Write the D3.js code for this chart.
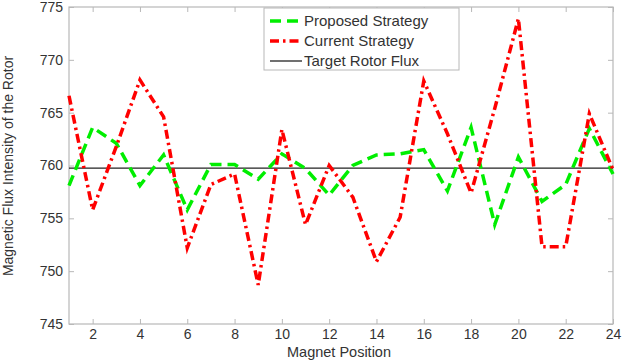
<!DOCTYPE html>
<meta charset="utf-8">
<script src="https://d3js.org/d3.v7.min.js"></script>
<style>
  body { margin: 0; background: #fff; }
  text { font-family: "Liberation Sans", Arial, sans-serif; fill: #333; }
</style>
<div id="chart"></div>
<script>

// magnet positions 1..24
var positions = d3.range(1, 25);

// flux
var proposed = [758.1, 763.6, 762.1, 758.1, 761.0, 755.8, 760.1, 760.1, 758.7, 761.1, 759.7, 757.2,
                760.0, 761.0, 761.1, 761.5, 757.6, 763.6, 754.4, 760.8, 756.6, 758.2, 763.5, 759.2];
var current  = [766.6, 755.8, 761.8, 768.1, 764.6, 752.2, 758.2, 759.2, 748.7, 763.4, 754.4, 760.0,
                757.0, 750.9, 755.1, 768.0, 763.0, 757.4, 765.4, 773.9, 752.3, 752.3, 764.9, 759.6];
var target = 759.75;

var xTicks = [2, 4, 6, 8, 10, 12, 14, 16, 18, 20, 22, 24];
var yTicks = [745, 750, 755, 760, 765, 770, 775];

var legendItems = ["Proposed Strategy", "Current Strategy", "Target Rotor Flux"];

var W = 644, H = 364;
var margin = {top: 7, right: 31, bottom: 40, left: 69},
    width = W - margin.left - margin.right,
    height = H - margin.top - margin.bottom;

var svg = d3.select("#chart")
  .append("svg")
    .attr("width", W)
    .attr("height", H)
  .append("g")
    .attr("transform", "translate(" + margin.left + "," + margin.top + ")");

var x = d3.scaleLinear().domain([1, 24]).range([0, width]);
var y = d3.scaleLinear().domain([745, 775]).range([height, 0]);

var axisColor = "#b8b8b8";

// axes, ticks inward like matlab
function styleAxis(g) {
  g.select(".domain").remove();
  g.selectAll(".tick line").attr("stroke", axisColor);
  g.selectAll(".tick text").style("font-size", "14px").attr("fill", "#333");
}

svg.append("g")
  .attr("transform", "translate(0," + height + ")")
  .call(d3.axisBottom(x).tickValues(xTicks).tickSizeInner(-5).tickSizeOuter(0).tickPadding(5))
  .call(styleAxis)
  .selectAll(".tick text").attr("dy", "0.71em");

svg.append("g")
  .call(d3.axisTop(x).tickValues(xTicks).tickSizeInner(-5).tickSizeOuter(0).tickFormat(""))
  .call(styleAxis);

svg.append("g")
  .call(d3.axisLeft(y).tickValues(yTicks).tickSizeInner(-5).tickSizeOuter(0).tickPadding(6))
  .call(styleAxis);

svg.append("g")
  .attr("transform", "translate(" + width + ",0)")
  .call(d3.axisRight(y).tickValues(yTicks).tickSizeInner(-5).tickSizeOuter(0).tickFormat(""))
  .call(styleAxis);

svg.append("rect")
  .attr("width", width)
  .attr("height", height)
  .attr("fill", "none")
  .attr("stroke", axisColor)
  .attr("stroke-width", 1.2);

// lines
var line = d3.line()
  .x(function(d, i) { return x(positions[i]); })
  .y(function(d) { return y(d); });

svg.append("line")
  .attr("x1", x(1)).attr("x2", x(24))
  .attr("y1", y(target)).attr("y2", y(target))
  .attr("stroke", "#222")
  .attr("stroke-width", 1.3);

svg.append("path")
  .datum(proposed)
  .attr("d", line)
  .attr("fill", "none")
  .attr("stroke", "#00ee00")
  .attr("stroke-width", 3.5)
  .attr("stroke-dasharray", "11,6");

svg.append("path")
  .datum(current)
  .attr("d", line)
  .attr("fill", "none")
  .attr("stroke", "#ff0000")
  .attr("stroke-width", 3.5)
  .attr("stroke-dasharray", "9,4,2.5,4");

// legend
var lx = 264 - margin.left, ly = 8 - margin.top;
var legend = svg.append("g").attr("transform", "translate(" + lx + "," + ly + ")");

legend.append("rect")
  .attr("width", 195)
  .attr("height", 62)
  .attr("fill", "#fff")
  .attr("stroke", axisColor);

var legendStyle = [
  {stroke: "#00ee00", width: 3.5, dash: "11,6"},
  {stroke: "#ff0000", width: 3.5, dash: "9,4,2.5,4"},
  {stroke: "#222", width: 1.3, dash: null}
];

legendItems.forEach(function(name, i) {
  var yy = 13 + i * 20;
  legend.append("line")
    .attr("x1", 6).attr("x2", 38)
    .attr("y1", yy).attr("y2", yy)
    .attr("stroke", legendStyle[i].stroke)
    .attr("stroke-width", legendStyle[i].width)
    .attr("stroke-dasharray", legendStyle[i].dash);
  legend.append("text")
    .attr("x", 40)
    .attr("y", yy + 5)
    .style("font-size", "15px")
    .text(name);
});

// axis titles
svg.append("text")
  .attr("x", width / 2 - 2)
  .attr("y", 357 - margin.top)
  .attr("text-anchor", "middle")
  .style("font-size", "14.5px")
  .text("Magnet Position");

svg.append("text")
  .attr("transform", "translate(" + (13 - margin.left) + "," + (166 - margin.top) + ") rotate(-90)")
  .attr("text-anchor", "middle")
  .style("font-size", "14px")
  .text("Magnetic Flux Intensity of the Rotor");

</script>
